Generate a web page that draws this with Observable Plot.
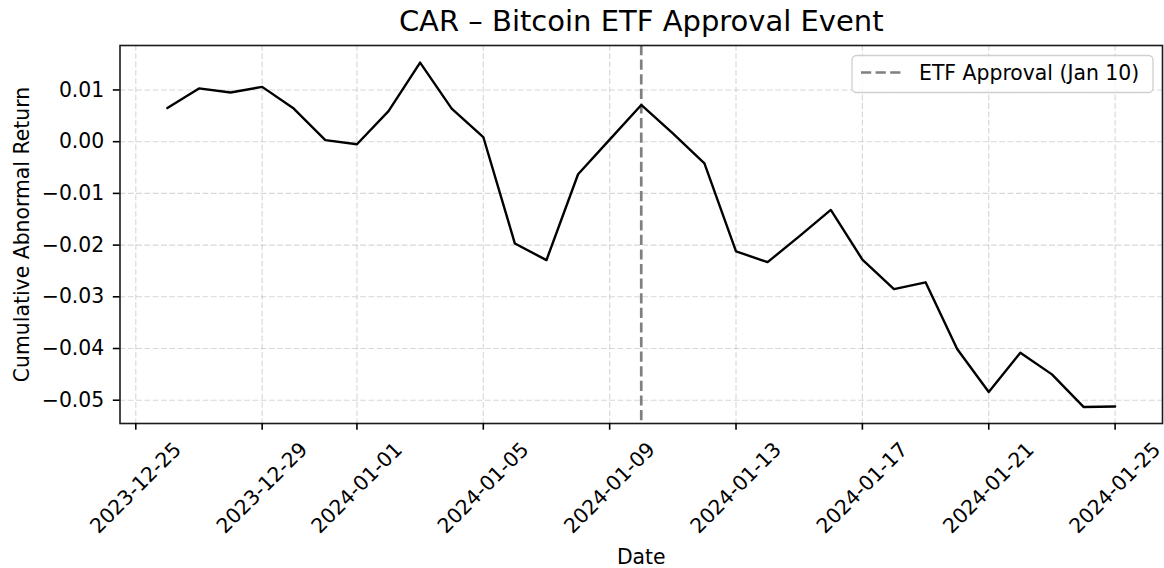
<!DOCTYPE html>
<html>
<head>
<meta charset="utf-8">
<script src="https://cdn.jsdelivr.net/npm/d3@7"></script>
<script src="https://cdn.jsdelivr.net/npm/@observablehq/plot@0.6"></script>
<style>
  html, body { margin: 0; padding: 0; background: #fff; }
  #chart svg { display: block; overflow: visible; }
</style>
</head>
<body>
<div id="chart"></div>
<script>
// Daily cumulative abnormal return around the spot Bitcoin ETF approval
const dates = [
  "2023-12-26", "2023-12-27", "2023-12-28", "2023-12-29", "2023-12-30", "2023-12-31",
  "2024-01-01", "2024-01-02", "2024-01-03", "2024-01-04", "2024-01-05", "2024-01-06",
  "2024-01-07", "2024-01-08", "2024-01-09", "2024-01-10", "2024-01-11", "2024-01-12",
  "2024-01-13", "2024-01-14", "2024-01-15", "2024-01-16", "2024-01-17", "2024-01-18",
  "2024-01-19", "2024-01-20", "2024-01-21", "2024-01-22", "2024-01-23", "2024-01-24",
  "2024-01-25"
];
const car = [
  0.0065, 0.0103, 0.0095, 0.0106, 0.0064, 0.0003,
  -0.0005, 0.0059, 0.0153, 0.0064, 0.0009, -0.0197,
  -0.0229, -0.0063, 0.0004, 0.0071, 0.0016, -0.0042,
  -0.0212, -0.0233, -0.0183, -0.0132, -0.0228, -0.0285,
  -0.0272, -0.0401, -0.0484, -0.0408, -0.0450, -0.0513,
  -0.0512
];
const xTicks = [
  "2023-12-25", "2023-12-29", "2024-01-01", "2024-01-05", "2024-01-09",
  "2024-01-13", "2024-01-17", "2024-01-21", "2024-01-25"
];
const yTicks = [0.01, 0.00, -0.01, -0.02, -0.03, -0.04, -0.05];
const eventDates = ["2024-01-10"];
const eventLabel = "ETF Approval (Jan 10)";
const titleText = "CAR \u2013 Bitcoin ETF Approval Event";
const xLabel = "Date";
const yLabel = "Cumulative Abnormal Return";
const xDomain = ["2023-12-24T12:00:00Z", "2024-01-26T12:00:00Z"];
const yDomain = [-0.0545, 0.0186];

const parse = (s) => new Date(s.length === 10 ? s + "T00:00:00Z" : s);
const series = dates.map((d, i) => ({ date: parse(d), value: car[i] }));
const xTickDates = xTicks.map(parse);
const eventDateValues = eventDates.map(parse);

const FONT = "DejaVu Sans, sans-serif";
const FS = 20.4;
const gridStyle = { stroke: "#b0b0b0", strokeOpacity: 0.5, strokeWidth: 1.1, strokeDasharray: "5.8,2.5" };
const eventStyle = { stroke: "#808080", strokeWidth: 2.7, strokeDasharray: "10.2,4.4" };
const fmtDate = d3.utcFormat("%Y-%m-%d");

const chart = Plot.plot({
  width: 1164,
  height: 568,
  marginLeft: 119.5,
  marginRight: 2,
  marginTop: 45,
  marginBottom: 145,
  style: { fontFamily: FONT, fontSize: FS + "px", color: "#000", background: "#fff" },
  x: { type: "utc", domain: xDomain.map(parse) },
  y: { domain: yDomain },
  marks: [
    Plot.gridX(xTickDates, gridStyle),
    Plot.gridY(yTicks, gridStyle),
    Plot.ruleX(eventDateValues, eventStyle),
    Plot.line(series, { x: "date", y: "value", stroke: "#000", strokeWidth: 2.4 }),
    Plot.frame({ stroke: "#1a1a1a", strokeWidth: 1.6 }),
    Plot.axisY(yTicks, {
      tickSize: 6.7, tickPadding: 9, strokeWidth: 1.6,
      tickFormat: d3.format(".2f"), fontSize: FS, label: null
    }),
    Plot.axisX(xTickDates, {
      tickSize: 6.7, strokeWidth: 1.6, tickFormat: () => "", label: null
    }),
    // rotated date labels, centred under each tick
    Plot.text(xTickDates, {
      x: (d) => d, text: (d) => fmtDate(d),
      frameAnchor: "bottom", dy: 64.5, rotate: -45,
      textAnchor: "middle", lineAnchor: "middle", fontSize: FS
    }),
    Plot.text([titleText], { frameAnchor: "top", dy: -15, lineAnchor: "bottom", fontSize: 29 }),
    Plot.text([xLabel], { frameAnchor: "bottom", dy: 140, lineAnchor: "bottom", fontSize: FS }),
    Plot.text([yLabel], {
      frameAnchor: "left", dx: -91.5, rotate: -90,
      textAnchor: "middle", lineAnchor: "bottom", fontSize: FS
    })
  ]
});

// legend box in the upper-right corner of the axes
const svg = d3.select(chart);
const lg = svg.append("g").attr("font-family", FONT).attr("font-size", FS);
lg.append("rect")
  .attr("x", 852).attr("y", 55.5).attr("width", 301).attr("height", 37)
  .attr("rx", 4.5).attr("fill", "#fff").attr("fill-opacity", 0.85)
  .attr("stroke", "#d0d0d0").attr("stroke-width", 1.3);
lg.append("line")
  .attr("x1", 861).attr("x2", 902).attr("y1", 72.5).attr("y2", 72.5)
  .attr("stroke", eventStyle.stroke).attr("stroke-width", eventStyle.strokeWidth)
  .attr("stroke-dasharray", eventStyle.strokeDasharray);
lg.append("text")
  .attr("x", 919).attr("y", 79.5).attr("text-anchor", "start")
  .attr("fill", "#000").text(eventLabel);

document.getElementById("chart").appendChild(chart);
</script>
</body>
</html>
